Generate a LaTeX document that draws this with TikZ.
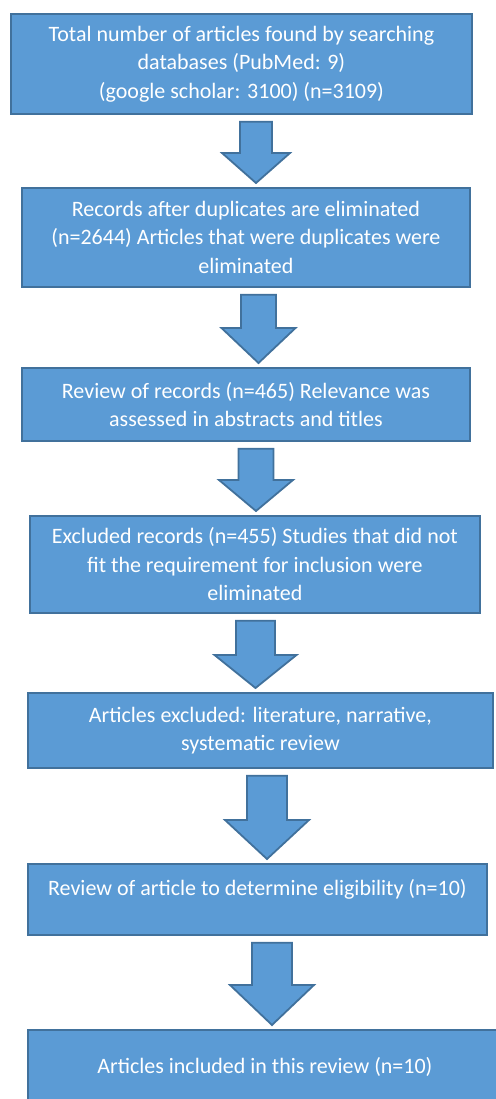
\documentclass[tikz,border=0pt]{standalone}
\usepackage{fontspec}
\setmainfont{Carlito}
\usepackage{tikz}
\usetikzlibrary{positioning,calc}
\definecolor{cBox}{HTML}{5B9BD5}
\definecolor{cEdge}{HTML}{41719C}

% block arrow from box #1 down to box #2: centre x, half shaft width, head length (px)
\newcommand{\flowarrow}[5]{%
  \draw[blockarrow]
    ($(#1.south -| #3,0)+(-#4,7)$) -- ($(#1.south -| #3,0)+(#4,7)$)
    -- ($(#2.north -| #3,0)+(#4,-4-#5)$) -- ($(#2.north -| #3,0)+(2*#4+2,-4-#5)$)
    -- ($(#2.north -| #3,0)+(0,-4)$)
    -- ($(#2.north -| #3,0)+(-2*#4-2,-4-#5)$) -- ($(#2.north -| #3,0)+(-#4,-4-#5)$)
    -- cycle;}

\begin{document}
\begin{tikzpicture}[x=0.5pt, y=-0.5pt,
  every node/.style={font=\fontsize{11pt}{14.2pt}\selectfont, align=center, text=white},
  stage/.style={fill=cBox, draw=cEdge, line width=0.9pt, anchor=north west, inner sep=0pt},
  blockarrow/.style={fill=cBox, draw=cEdge, line width=0.9pt, line join=miter}]

  \clip (0,0) rectangle (496,1099);

  \node[stage, minimum width=230.5pt, minimum height=50pt] (found) at (10,13)
    {Total number of articles found by searching\\databases (PubMed: 9)\\(google scholar: 3100) (n=3109)};
  \node[stage, minimum width=224pt, minimum height=49.5pt] (dupl) at (21,187)
    {Records after duplicates are eliminated\\(n=2644) Articles that were duplicates were\\eliminated};
  \node[stage, minimum width=224pt, minimum height=36.5pt] (screen) at (21,367)
    {Review of records (n=465) Relevance was\\assessed in abstracts and titles};
  \node[stage, minimum width=225pt, minimum height=48.5pt] (excl) at (29,515)
    {Excluded records (n=455) Studies that did not\\fit the requirement for inclusion were\\eliminated};
  \node[stage, minimum width=232.5pt, minimum height=37.5pt] (narr) at (27,692)
    {Articles excluded: literature, narrative,\\systematic review};
  \node[stage, minimum width=229.5pt, minimum height=35.5pt, text depth=12pt] (elig) at (27,863)
    {Review of article to determine eligibility (n=10)};
  \node[stage, minimum width=237pt, minimum height=37pt] (incl) at (27,1029)
    {Articles included in this review (n=10)};

  \flowarrow{found}{dupl}{256}{16}{30}
  \flowarrow{dupl}{screen}{258.5}{17.5}{35}
  \flowarrow{screen}{excl}{256}{17.5}{31}
  \flowarrow{excl}{narr}{255.5}{19.5}{33}
  \flowarrow{narr}{elig}{267}{20}{39}
  \flowarrow{elig}{incl}{272}{20}{40}
\end{tikzpicture}
\end{document}
